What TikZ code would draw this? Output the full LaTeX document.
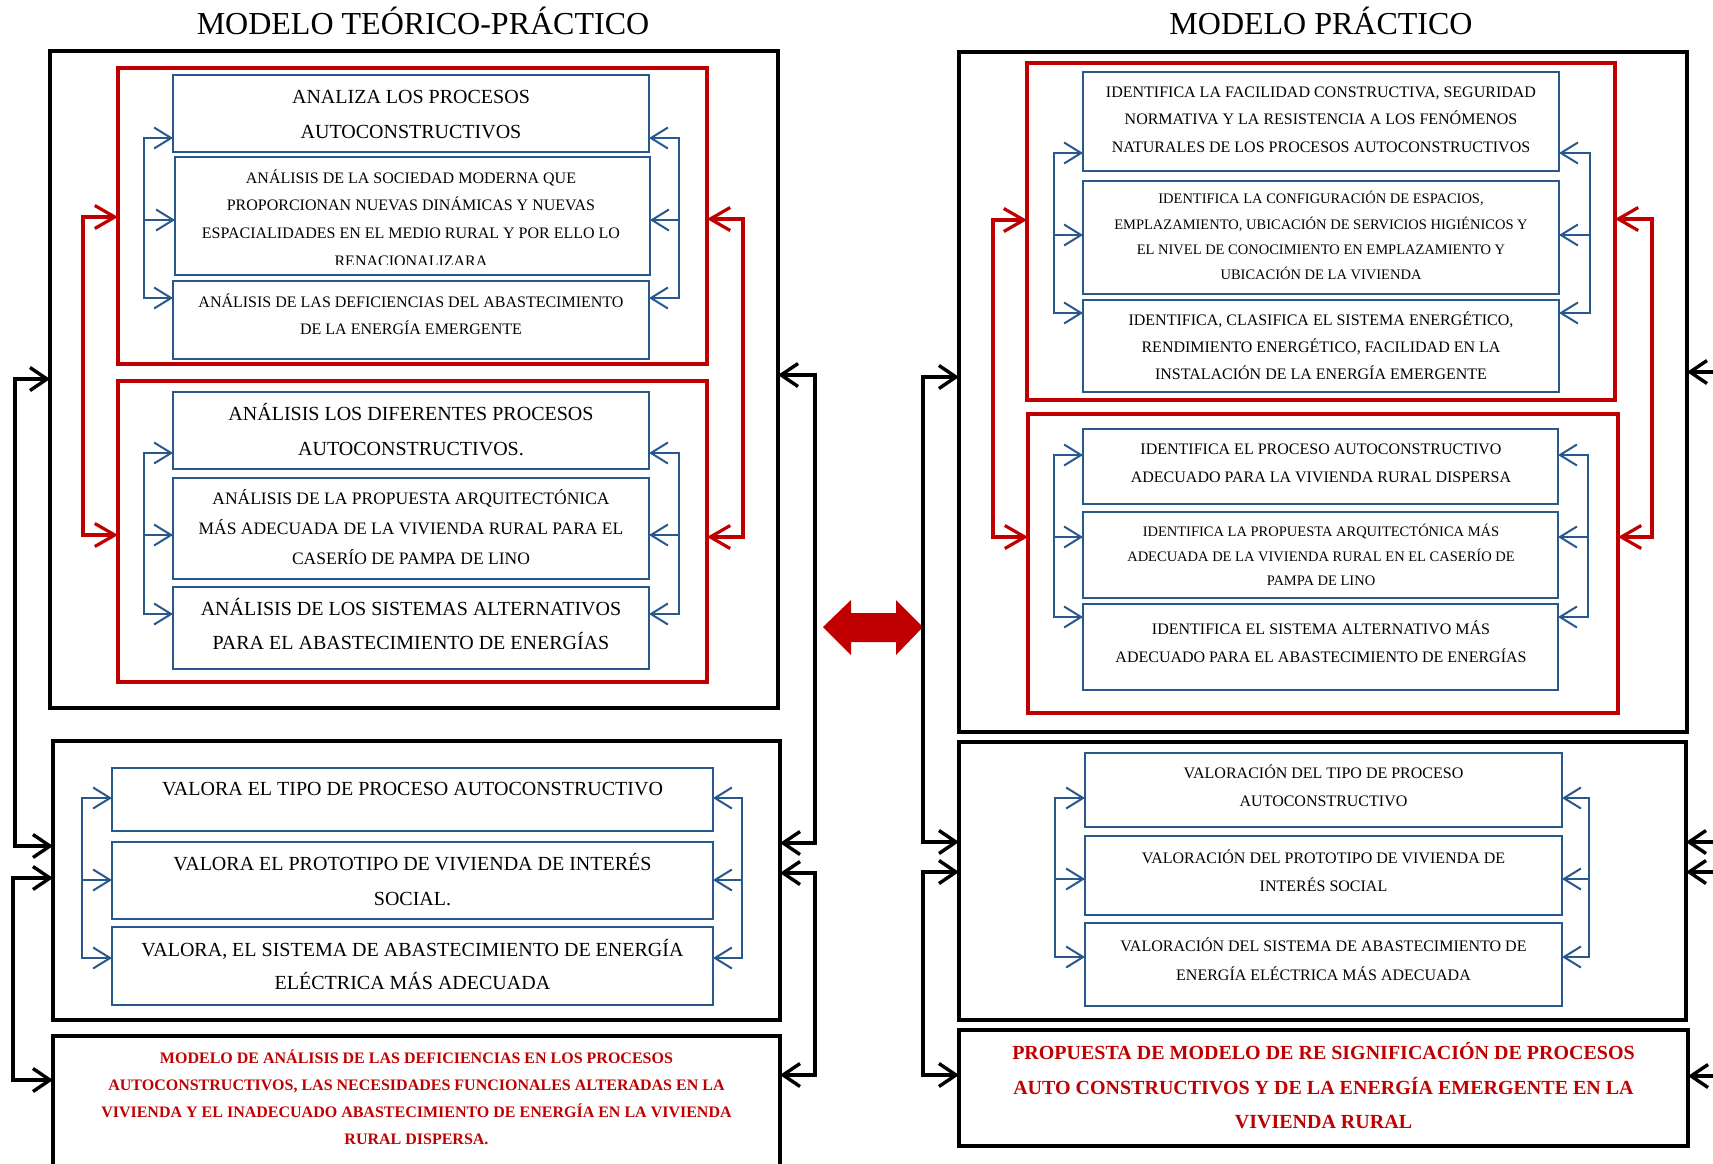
\documentclass[tikz,border=0pt]{standalone}
\usepackage{fontspec}
\setmainfont{Liberation Serif}
\usetikzlibrary{arrows.meta}
\definecolor{boxblue}{RGB}{41,88,140}
\definecolor{darkred}{RGB}{192,0,0}

\tikzset{
  blackframe/.style={draw=black, line width=3.4pt, inner sep=0pt, outer sep=0pt, anchor=north west},
  redframe/.style={draw=darkred, line width=3.4pt, inner sep=0pt, outer sep=0pt, anchor=north west},
  bluebox/.style={draw=boxblue, line width=2.4pt, inner sep=0pt, outer sep=0pt, anchor=north west},
  bluelink/.style={draw=boxblue, line width=2pt, line join=miter, -{Straight Barb[length=17pt,width=21pt]}},
  redlink/.style={draw=darkred, line width=3.2pt, line join=miter, {Straight Barb[length=20pt,width=23pt]}-{Straight Barb[length=20pt,width=23pt]}},
  blacklink/.style={draw=black, line width=3.4pt, line join=miter, {Straight Barb[length=17pt,width=23pt]}-{Straight Barb[length=17pt,width=23pt]}},
  blackin/.style={draw=black, line width=3.4pt, -{Straight Barb[length=17pt,width=23pt]}},
  txtnode/.style={inner sep=0pt, outer sep=0pt, anchor=north, align=center},
}

% box: style, name, x1, y1, x2, y2  (y grows downwards)
\newcommand\mkbox[6]{\node[#1, minimum width={#5-#3}, minimum height={#6-#4}] (#2) at (#3,#4) {};}
% text block: name, centre x, centre y of first line, size, line skip, extra font switches, lines
\newcommand\boxtext[7]{\node[txtnode, font={\fontsize{#4}{#5}\selectfont#6}] (#1) at (#2,{#3-0.719*#4}) {\rule{0pt}{1.05em}#7};}
\newcommand\redbold{\bfseries\color{darkred}}
% three boxes fed from a bracket on each side
\newcommand\bracketset[9]{%
  \coordinate (#1la) at (#2,#4); \coordinate (#1lb) at (#2,#5); \coordinate (#1lc) at (#2,#6);
  \coordinate (#1ra) at (#3,#4); \coordinate (#1rb) at (#3,#5); \coordinate (#1rc) at (#3,#6);
  \draw[bluelink] (#1lc) -- (#1la) -- (#1la -| #7.west);
  \draw[bluelink] (#1la) -- (#1lc) -- (#1lc -| #9.west);
  \draw[bluelink] (#1lb) -- (#1lb -| #8.west);
  \draw[bluelink] (#1rc) -- (#1ra) -- (#1ra -| #7.east);
  \draw[bluelink] (#1ra) -- (#1rc) -- (#1rc -| #9.east);
  \draw[bluelink] (#1rb) -- (#1rb -| #8.east);
}

\begin{document}
\begin{tikzpicture}[x=1pt,y=-1pt]
\fill[white] (0,0) rectangle (1713,1163);
\useasboundingbox (0,0) rectangle (1713,1163);

% ---------- titles ----------
\boxtext{titleL}{423}{24}{32}{38}{}{MODELO TEÓRICO-PRÁCTICO}
\boxtext{titleR}{1321}{24}{32}{38}{}{MODELO PRÁCTICO}

% ---------- left column frames ----------
\mkbox{blackframe}{O1}{50}{51}{778}{708}
\mkbox{blackframe}{O2}{53}{741}{780}{1020}
\mkbox{blackframe}{O3}{53}{1036}{780}{1185}
\mkbox{redframe}{L1}{118}{68}{707}{364}
\mkbox{redframe}{L2}{118}{381}{707}{682}

\mkbox{bluebox}{b1}{173}{75}{649}{152}
\mkbox{bluebox}{b2}{175}{157}{650}{275}
\mkbox{bluebox}{b3}{173}{281}{649}{359}
\mkbox{bluebox}{b4}{173}{392}{649}{469}
\mkbox{bluebox}{b5}{173}{478}{649}{579}
\mkbox{bluebox}{b6}{173}{587}{649}{669}
\mkbox{bluebox}{b7}{112}{768}{713}{831}
\mkbox{bluebox}{b8}{112}{842}{713}{919}
\mkbox{bluebox}{b9}{112}{927}{713}{1005}

\boxtext{t1}{411}{97}{20}{35}{}{ANALIZA LOS PROCESOS\\AUTOCONSTRUCTIVOS}
\boxtext{t2}{411}{178}{16}{27.4}{}{ANÁLISIS DE LA SOCIEDAD MODERNA QUE\\PROPORCIONAN NUEVAS DINÁMICAS Y NUEVAS\\ESPACIALIDADES EN EL MEDIO RURAL Y POR ELLO LO}
% last line of this box runs past its text frame and is cut off
\begin{scope}
  \clip (177,248) rectangle (647,264);
  \boxtext{t2b}{411}{261}{16}{27.4}{}{RENACIONALIZARA}
\end{scope}
\boxtext{t3}{411}{302}{16}{27.4}{}{ANÁLISIS DE LAS DEFICIENCIAS DEL ABASTECIMIENTO\\DE LA ENERGÍA EMERGENTE}
\boxtext{t4}{411}{414}{20}{35}{}{ANÁLISIS LOS DIFERENTES PROCESOS\\AUTOCONSTRUCTIVOS.}
\boxtext{t5}{411}{499}{17.5}{30}{}{ANÁLISIS DE LA PROPUESTA ARQUITECTÓNICA\\MÁS ADECUADA DE LA VIVIENDA RURAL PARA EL\\CASERÍO DE PAMPA DE LINO}
\boxtext{t6}{411}{609}{20}{34}{}{ANÁLISIS DE LOS SISTEMAS ALTERNATIVOS\\PARA EL ABASTECIMIENTO DE ENERGÍAS}
\boxtext{t7}{412.5}{789}{20}{35}{}{VALORA EL TIPO DE PROCESO AUTOCONSTRUCTIVO}
\boxtext{t8}{412.5}{864}{20}{35}{}{VALORA EL PROTOTIPO DE VIVIENDA DE INTERÉS\\SOCIAL.}
\boxtext{t9}{412.5}{950}{20}{33}{}{VALORA, EL SISTEMA DE ABASTECIMIENTO DE ENERGÍA\\ELÉCTRICA MÁS ADECUADA}
\boxtext{t10}{416.5}{1058}{16}{27}{\redbold}{MODELO DE ANÁLISIS DE LAS DEFICIENCIAS EN LOS PROCESOS\\AUTOCONSTRUCTIVOS, LAS NECESIDADES FUNCIONALES ALTERADAS EN LA\\VIVIENDA Y EL INADECUADO ABASTECIMIENTO DE ENERGÍA EN LA VIVIENDA\\RURAL DISPERSA.}

\bracketset{ga}{144}{679}{138}{220}{298}{b1}{b2}{b3}
\bracketset{gb}{144}{679}{453}{535}{614}{b4}{b5}{b6}
\bracketset{gc}{82}{742}{798}{880}{958}{b7}{b8}{b9}

% red links between the two analysis groups
\coordinate (rlA) at (83,217);  \coordinate (rlB) at (83,535);
\coordinate (rrA) at (743,219); \coordinate (rrB) at (743,537);
\draw[redlink] (rlA -| L1.west) -- (rlA) -- (rlB) -- (rlB -| L2.west);
\draw[redlink] (rrA -| L1.east) -- (rrA) -- (rrB) -- (rrB -| L2.east);

% black links between the left frames
\coordinate (klA) at (15,379);  \coordinate (klB) at (15,846);
\coordinate (klC) at (13,878);  \coordinate (klD) at (13,1080);
\coordinate (krA) at (815,375); \coordinate (krB) at (815,843);
\coordinate (krC) at (815,873); \coordinate (krD) at (815,1075);
\draw[blacklink] (klA -| O1.west) -- (klA) -- (klB) -- (klB -| O2.west);
\draw[blacklink] (klC -| O2.west) -- (klC) -- (klD) -- (klD -| O3.west);
\draw[blacklink] (krA -| O1.east) -- (krA) -- (krB) -- (krB -| O2.east);
\draw[blacklink] (krC -| O2.east) -- (krC) -- (krD) -- (krD -| O3.east);

% ---------- central double arrow ----------
\fill[darkred] (823,627) -- (851,600) -- (851,613) -- (896,613) -- (896,600) -- (923,627)
  -- (896,655) -- (896,642) -- (851,642) -- (851,655) -- cycle;

% ---------- right column frames ----------
\mkbox{blackframe}{P1}{959}{52}{1687}{732}
\mkbox{blackframe}{P2}{959}{742}{1686}{1020}
\mkbox{blackframe}{P3}{959}{1030}{1688}{1146}
\mkbox{redframe}{M1}{1027}{63}{1615}{400}
\mkbox{redframe}{M2}{1028}{414}{1618}{713}

\mkbox{bluebox}{r1}{1083}{72}{1559}{171}
\mkbox{bluebox}{r2}{1083}{181}{1559}{294}
\mkbox{bluebox}{r3}{1083}{300}{1559}{392}
\mkbox{bluebox}{r4}{1083}{429}{1558}{504}
\mkbox{bluebox}{r5}{1083}{512}{1558}{598}
\mkbox{bluebox}{r6}{1083}{604}{1558}{690}
\mkbox{bluebox}{r7}{1085}{753}{1562}{827}
\mkbox{bluebox}{r8}{1085}{836}{1562}{915}
\mkbox{bluebox}{r9}{1085}{923}{1562}{1006}

\boxtext{s1}{1321}{92}{16}{27.5}{}{IDENTIFICA LA FACILIDAD CONSTRUCTIVA, SEGURIDAD\\NORMATIVA Y LA RESISTENCIA A LOS FENÓMENOS\\NATURALES DE LOS PROCESOS AUTOCONSTRUCTIVOS}
\boxtext{s2}{1321}{199}{14.5}{25.3}{}{IDENTIFICA LA CONFIGURACIÓN DE ESPACIOS,\\EMPLAZAMIENTO, UBICACIÓN DE SERVICIOS HIGIÉNICOS Y\\EL NIVEL DE CONOCIMIENTO EN EMPLAZAMIENTO Y\\UBICACIÓN DE LA VIVIENDA}
\boxtext{s3}{1321}{320}{16}{27}{}{IDENTIFICA, CLASIFICA EL SISTEMA ENERGÉTICO,\\RENDIMIENTO ENERGÉTICO, FACILIDAD EN LA\\INSTALACIÓN DE LA ENERGÍA EMERGENTE}
\boxtext{s4}{1321}{449}{16}{28}{}{IDENTIFICA EL PROCESO AUTOCONSTRUCTIVO\\ADECUADO PARA LA VIVIENDA RURAL DISPERSA}
\boxtext{s5}{1321}{532}{14.5}{24.5}{}{IDENTIFICA LA PROPUESTA ARQUITECTÓNICA MÁS\\ADECUADA DE LA VIVIENDA RURAL EN EL CASERÍO DE\\PAMPA DE LINO}
\boxtext{s6}{1321}{629}{16}{28}{}{IDENTIFICA EL SISTEMA ALTERNATIVO MÁS\\ADECUADO PARA EL ABASTECIMIENTO DE ENERGÍAS}
\boxtext{s7}{1323.5}{773}{16}{28}{}{VALORACIÓN DEL TIPO DE PROCESO\\AUTOCONSTRUCTIVO}
\boxtext{s8}{1323.5}{858}{16}{28}{}{VALORACIÓN DEL PROTOTIPO DE VIVIENDA DE\\INTERÉS SOCIAL}
\boxtext{s9}{1323.5}{946}{16}{29}{}{VALORACIÓN DEL SISTEMA DE ABASTECIMIENTO DE\\ENERGÍA ELÉCTRICA MÁS ADECUADA}
\boxtext{s10}{1323.5}{1053}{20}{34.5}{\redbold}{PROPUESTA DE MODELO DE RE SIGNIFICACIÓN DE PROCESOS\\AUTO CONSTRUCTIVOS Y DE LA ENERGÍA EMERGENTE EN LA\\VIVIENDA RURAL}

\bracketset{gd}{1054}{1590}{153}{235}{313}{r1}{r2}{r3}
\bracketset{ge}{1054}{1588}{455}{537}{617}{r4}{r5}{r6}
\bracketset{gf}{1055}{1589}{798}{879}{957}{r7}{r8}{r9}

\coordinate (mlA) at (993,220);  \coordinate (mlB) at (993,537);
\coordinate (mrA) at (1652,219); \coordinate (mrB) at (1652,537);
\draw[redlink] (mlA -| M1.west) -- (mlA) -- (mlB) -- (mlB -| M2.west);
\draw[redlink] (mrA -| M1.east) -- (mrA) -- (mrB) -- (mrB -| M2.east);

\coordinate (plA) at (923,377); \coordinate (plB) at (923,842);
\coordinate (plC) at (923,872); \coordinate (plD) at (923,1075);
\draw[blacklink] (plA -| P1.west) -- (plA) -- (plB) -- (plB -| P2.west);
\draw[blacklink] (plC -| P2.west) -- (plC) -- (plD) -- (plD -| P3.west);

% feeds arriving from beyond the right margin
\coordinate (eA) at (1735,372);
\coordinate (eB) at (1735,842);
\coordinate (eC) at (1735,872);
\coordinate (eD) at (1735,1076);
\draw[blackin] (eA) -- (eA -| P1.east);
\draw[blackin] (eB) -- (eB -| P2.east);
\draw[blackin] (eC) -- (eC -| P2.east);
\draw[blackin] (eD) -- (eD -| P3.east);
\end{tikzpicture}
\end{document}
